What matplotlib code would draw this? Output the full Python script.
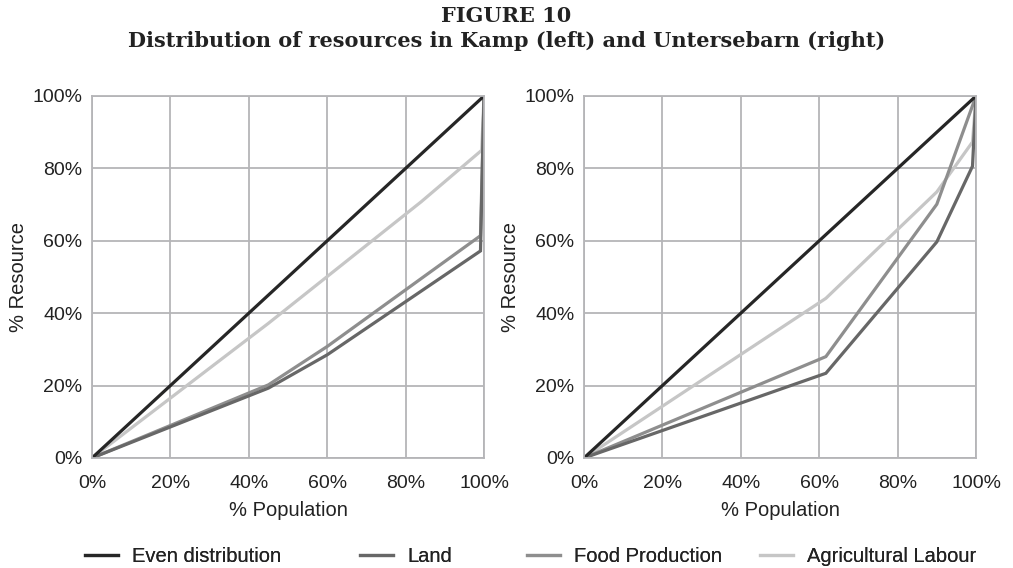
import matplotlib
matplotlib.use('Agg')
import matplotlib.pyplot as plt
from matplotlib.ticker import PercentFormatter

plt.rcParams['font.family'] = ['Liberation Sans', 'DejaVu Sans']

# ------------ data (% population vs % resource) ------------------------------

series_names = ['Even distribution', 'Land', 'Food Production', 'Agricultural Labour']
series_colors = ['#262626', '#676767', '#8e8e8e', '#c6c6c6']

# Kamp (left)
kamp_even_x = [0, 100]
kamp_even_y = [0, 100]
kamp_land_x = [0, 45, 60, 99.1, 100]
kamp_land_y = [0, 19.3, 28.5, 57.2, 100]
kamp_food_x = [0, 45, 60, 99.1, 100]
kamp_food_y = [0, 20.2, 30.8, 61.4, 100]
kamp_agri_x = [0, 45, 84, 99.4, 100]
kamp_agri_y = [0, 37.2, 70.8, 85, 100]

# Untersebarn (right)
unt_even_x = [0, 100]
unt_even_y = [0, 100]
unt_land_x = [0, 61.7, 90, 99.1, 100]
unt_land_y = [0, 23.4, 59.7, 80.6, 100]
unt_food_x = [0, 61.7, 90, 100]
unt_food_y = [0, 28, 70.1, 100]
unt_agri_x = [0, 61.7, 90, 99.1, 100]
unt_agri_y = [0, 44.1, 73.5, 87.3, 100]

ticks = [0, 20, 40, 60, 80, 100]

fig = plt.figure(figsize=(10.13, 5.68), dpi=100)

ax_left = fig.add_axes([0.0908, 0.1937, 0.387, 0.6373])
ax_right = fig.add_axes([0.5765, 0.1937, 0.387, 0.6373])

panels = [
	(ax_left, [(kamp_even_x, kamp_even_y), (kamp_land_x, kamp_land_y),
			   (kamp_food_x, kamp_food_y), (kamp_agri_x, kamp_agri_y)]),
	(ax_right, [(unt_even_x, unt_even_y), (unt_land_x, unt_land_y),
				(unt_food_x, unt_food_y), (unt_agri_x, unt_agri_y)]),
]

grid_color = '#b5b5b8'

for ax, lines in panels:
	# draw lightest first so the dark ones sit on top
	for (xs, ys), name, col in reversed(list(zip(lines, series_names, series_colors))):
		ax.plot(xs, ys, color=col, linewidth=2.3, label=name, solid_joinstyle='miter')
	ax.set_xlim(0, 100)
	ax.set_ylim(0, 100)
	ax.set_xticks(ticks)
	ax.set_yticks(ticks)
	ax.xaxis.set_major_formatter(PercentFormatter(decimals=0))
	ax.yaxis.set_major_formatter(PercentFormatter(decimals=0))
	ax.grid(True, color=grid_color, linewidth=1.3)
	ax.set_axisbelow(True)
	for sp in ax.spines.values():
		sp.set_color(grid_color)
		sp.set_linewidth(1.3)
	ax.tick_params(length=0, labelsize=14, colors='#222222')
	ax.tick_params(axis='x', pad=12)
	ax.tick_params(axis='y', pad=7)
	ax.set_xlabel('% Population', fontsize=14.5, color='#222222', labelpad=7)
	ax.set_ylabel('% Resource', fontsize=14.5, color='#222222', labelpad=3)

# legend: one entry per legend so the uneven spacing of the original is kept
handles, labels = ax_left.get_legend_handles_labels()
handles, labels = handles[::-1], labels[::-1]
legend_left_px = [85, 360, 527, 760]
for h, lab, xpx in zip(handles, labels, legend_left_px):
	leg = fig.legend([h], [lab], loc='center left', bbox_to_anchor=(xpx / 1013, 0.02),
		frameon=False, fontsize=14.5, handlelength=1.65, handletextpad=0.7,
		borderpad=0, borderaxespad=0, labelcolor='#222222')
	fig.add_artist(leg)

fig.text(0.5, 0.972, 'FIGURE 10', ha='center', va='center',
	fontsize=15, fontweight='bold', family='DejaVu Serif', color='#222222')
fig.text(0.5, 0.928, 'Distribution of resources in Kamp (left) and Untersebarn (right)',
	ha='center', va='center', fontsize=15, fontweight='bold',
	family='DejaVu Serif', color='#222222')

plt.savefig('out.png', dpi=100)
plt.close()
